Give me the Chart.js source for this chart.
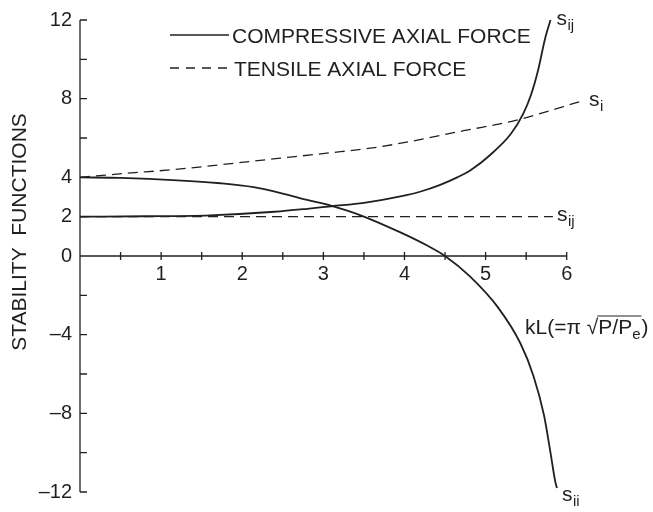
<!DOCTYPE html>
<html><head><meta charset="utf-8">
<script src="https://cdn.jsdelivr.net/npm/chart.js@4"></script>
<style>html,body{margin:0;padding:0;background:#fff}</style>
</head><body>
<canvas id="c" width="653" height="512" style="display:block;width:653px;height:512px"></canvas>
<script>
// ---- data ----
const compSiiX = [0, 0.5, 1.2, 1.73, 2.14, 2.55, 2.8, 3.1, 3.46, 3.95, 4.28, 4.5, 4.81, 5.15, 5.43, 5.59, 5.72, 5.8, 5.86, 5.88];
const compSiiY = [4.0, 3.97, 3.85, 3.7, 3.5, 3.12, 2.85, 2.55, 2.07, 1.2, 0.53, 0.0, -1.05, -2.6, -4.45, -6.1, -8.1, -10.0, -11.5, -11.8];
const compSijX = [0, 0.8, 1.6, 2.4, 2.8, 3.1, 3.5, 3.95, 4.2, 4.44, 4.65, 4.81, 5.06, 5.31, 5.46, 5.56, 5.65, 5.73, 5.8];
const compSijY = [2.0, 2.02, 2.07, 2.25, 2.4, 2.53, 2.7, 3.03, 3.28, 3.62, 4.0, 4.35, 5.15, 6.2, 7.2, 8.2, 9.5, 11.0, 12.0];
const tensSiiX = [0, 0.56, 1.17, 2.41, 3.09, 3.52, 3.91, 4.73, 5.37, 5.96, 6.2];
const tensSiiY = [4.0, 4.2, 4.4, 4.95, 5.25, 5.45, 5.7, 6.37, 6.9, 7.6, 7.9];
const tensSijX = [0, 5.83];
const tensSijY = [2.0, 2.0];
const xTickValues = [0.5, 1, 1.5, 2, 2.5, 3, 3.5, 4, 4.5, 5, 5.5, 6];
const xTickLabels = ['', '1', '', '2', '', '3', '', '4', '', '5', '', '6'];
const yTickValues = [-12, -10, -8, -6, -4, -2, 0, 2, 4, 6, 8, 10, 12];
const yTickLabels = ['\u201312', '', '\u20138', '', '\u20134', '', '0', '2', '4', '', '8', '', '12'];
const legendLabels = ['COMPRESSIVE AXIAL FORCE', 'TENSILE AXIAL FORCE'];
const yTitle = 'STABILITY  FUNCTIONS';

const FONT = '"Liberation Sans", Arial, Helvetica, sans-serif';
const INK = '#231f20';
const pts = (xs, ys) => xs.map((v, i) => ({x: v, y: ys[i]}));
const DASH = [10, 6];

const decor = {
  id: 'decor',
  afterDraw(chart) {
    const {ctx, scales: {x, y}} = chart;
    const px = v => x.getPixelForValue(v), py = v => y.getPixelForValue(v);
    ctx.save();
    ctx.strokeStyle = INK; ctx.fillStyle = INK; ctx.lineWidth = 1.3;
    const x0 = px(0), y0 = py(0);
    ctx.beginPath();
    ctx.moveTo(x0, py(12)); ctx.lineTo(x0, py(-12));
    ctx.moveTo(x0, y0); ctx.lineTo(px(6), y0);
    yTickValues.forEach(v => { const p = py(v); ctx.moveTo(x0, p); ctx.lineTo(x0 + 7, p); });
    xTickValues.forEach(v => { const p = px(v); ctx.moveTo(p, y0 - 4); ctx.lineTo(p, y0 + 4); });
    ctx.stroke();

    // axis title
    ctx.save();
    ctx.translate(20, 232); ctx.rotate(-Math.PI / 2);
    ctx.font = '21px ' + FONT; ctx.textAlign = 'center'; ctx.textBaseline = 'middle';
    ctx.fillText(yTitle, 0, 0);
    ctx.restore();

    // legend
    ctx.lineWidth = 1.4;
    ctx.beginPath(); ctx.moveTo(170, 35); ctx.lineTo(229, 35); ctx.stroke();
    ctx.setLineDash([9, 7]);
    ctx.beginPath(); ctx.moveTo(170, 68); ctx.lineTo(229, 68); ctx.stroke();
    ctx.setLineDash([]);
    ctx.font = '21px ' + FONT; ctx.textAlign = 'left'; ctx.textBaseline = 'alphabetic';
    ctx.fillText(legendLabels[0], 232, 43);
    ctx.fillText(legendLabels[1], 234, 76);

    // curve labels
    const sub = (base, s, xx, yy) => {
      ctx.font = '21px ' + FONT; ctx.fillText(base, xx, yy);
      const w = ctx.measureText(base).width;
      ctx.font = '15px ' + FONT; ctx.fillText(s, xx + w + 0.5, yy + 5);
    };
    sub('s', 'ij', px(5.8) + 6, py(12) + 5);
    sub('s', 'i', px(6.2) + 6, py(7.9) + 5);
    sub('s', 'ij', px(5.83) + 4, py(2) + 4);
    sub('s', 'ii', px(5.88) + 5, py(-11.8) + 13);

    // kL label
    let xx = 525; const yb = 334;
    ctx.font = '21px ' + FONT;
    const t1 = 'kL(=\u03c0 ';
    ctx.fillText(t1, xx, yb); xx += ctx.measureText(t1).width;
    ctx.fillText('\u221a', xx, yb); const sqW = ctx.measureText('\u221a').width;
    xx += sqW;
    const t2 = 'P/P';
    ctx.fillText(t2, xx, yb);
    const w2 = ctx.measureText(t2).width;
    ctx.font = '15px ' + FONT; ctx.fillText('e', xx + w2, yb + 5);
    const we = ctx.measureText('e').width;
    ctx.lineWidth = 1;
    ctx.beginPath(); ctx.moveTo(xx - 1, yb - 18); ctx.lineTo(xx + w2 + we + 1, yb - 18); ctx.stroke();
    ctx.font = '21px ' + FONT; ctx.fillText(')', xx + w2 + we + 1, yb);
    ctx.restore();
  }
};

new Chart(document.getElementById('c'), {
  type: 'line',
  data: {
    datasets: [
      {label: 'comp sii', data: pts(compSiiX, compSiiY), borderColor: INK, borderWidth: 1.8, pointRadius: 0, cubicInterpolationMode: 'monotone', fill: false},
      {label: 'comp sij', data: pts(compSijX, compSijY), borderColor: INK, borderWidth: 1.8, pointRadius: 0, cubicInterpolationMode: 'monotone', fill: false},
      {label: 'tens sii', data: pts(tensSiiX, tensSiiY), borderColor: INK, borderWidth: 1.3, borderDash: DASH, pointRadius: 0, cubicInterpolationMode: 'monotone', fill: false},
      {label: 'tens sij', data: pts(tensSijX, tensSijY), borderColor: INK, borderWidth: 1.3, borderDash: DASH, pointRadius: 0, fill: false}
    ]
  },
  options: {
    responsive: false, animation: false,
    layout: {padding: {left: 0, right: 66, top: 13, bottom: 19}},
    plugins: {legend: {display: false}, tooltip: {enabled: false}},
    scales: {
      x: {
        type: 'linear', min: 0, max: 6.25, position: {y: 0},
        grid: {display: false, drawTicks: false}, border: {display: false},
        afterBuildTicks: s => { s.ticks = xTickValues.map(v => ({value: v})); },
        ticks: {autoSkip: false, maxRotation: 0, padding: 6, color: INK, font: {family: FONT, size: 20},
          callback: (v) => { const i = xTickValues.indexOf(v); return i >= 0 ? xTickLabels[i] : ''; }}
      },
      y: {
        type: 'linear', min: -12, max: 12,
        grid: {display: false, drawTicks: false}, border: {display: false},
        afterFit: s => { s.width = 80; },
        afterBuildTicks: s => { s.ticks = yTickValues.map(v => ({value: v})); },
        ticks: {autoSkip: false, padding: 8, color: INK, font: {family: FONT, size: 20},
          callback: (v) => { const i = yTickValues.indexOf(v); return i >= 0 ? yTickLabels[i] : ''; }}
      }
    }
  },
  plugins: [decor]
});
</script>
</body></html>
